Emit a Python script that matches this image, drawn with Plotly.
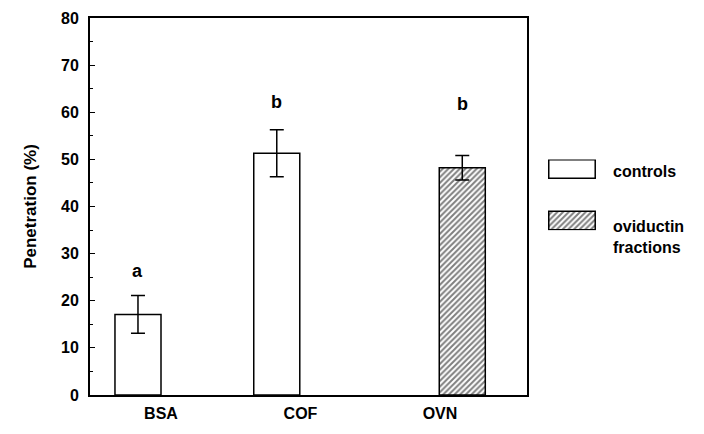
import plotly.graph_objects as go

# ---- data ----
categories = ["BSA", "COF", "OVN"]
penetration = [17.1, 51.3, 48.2]
sem = [4.0, 5.0, 2.6]
groups = ["control", "control", "oviductin"]
sig_letters = ["a", "b", "b"]
letter_y = [26.3, 62.2, 61.7]
y_ticks = [0, 10, 20, 30, 40, 50, 60, 70, 80]
legend_labels = ["controls", "oviductin", "fractions"]

# ---- layout constants ----
bar_pos = [0.835, 1.83, 3.16]
label_pos = [1, 2, 3]
bar_w = 0.33
FONT = "Liberation Sans, Arial, Helvetica, sans-serif"
HATCH = dict(shape="/", fgcolor="black", bgcolor="white", size=4, solidity=0.5)

fig = go.Figure()

for i, cat in enumerate(categories):
    hatched = groups[i] == "oviductin"
    pat = HATCH if hatched else dict(shape="")
    fig.add_trace(go.Bar(
        x=[bar_pos[i]], y=[penetration[i]], width=[bar_w],
        marker=dict(color="white", line=dict(color="black", width=1.5), pattern=pat),
        error_y=dict(type="data", array=[sem[i]], visible=True,
                     color="black", thickness=1.5, width=7),
        showlegend=False, xaxis="x", yaxis="y",
    ))

for i, t in enumerate(sig_letters):
    fig.add_annotation(x=bar_pos[i], y=letter_y[i], text=t, showarrow=False,
                       xref="x", yref="y",
                       font=dict(family=FONT, size=18, color="black", weight="bold"))

# legend drawn as inset axes
fig.add_trace(go.Bar(x=[0.5], y=[19], base=[53], width=[1],
                     marker=dict(color="white", line=dict(color="black", width=1.5)),
                     showlegend=False, xaxis="x2", yaxis="y2"))
fig.add_trace(go.Bar(x=[0.5], y=[19], base=[0], width=[1],
                     marker=dict(color="white", line=dict(color="black", width=1.5),
                                 pattern=HATCH),
                     showlegend=False, xaxis="x2", yaxis="y2"))

lab_font = dict(family=FONT, size=16, color="black", weight="bold")
fig.add_annotation(x=0.862, y=0.594, xref="paper", yref="paper", text=legend_labels[0],
                   showarrow=False, xanchor="left", yanchor="middle", font=lab_font)
fig.add_annotation(x=0.862, y=0.446, xref="paper", yref="paper", text=legend_labels[1],
                   showarrow=False, xanchor="left", yanchor="middle", font=lab_font)
fig.add_annotation(x=0.862, y=0.392, xref="paper", yref="paper", text=legend_labels[2],
                   showarrow=False, xanchor="left", yanchor="middle", font=lab_font)

fig.update_layout(
    width=704, height=434,
    margin=dict(l=90, r=10, t=12, b=39),
    paper_bgcolor="white", plot_bgcolor="white",
    barmode="overlay",
    xaxis=dict(domain=[0, 0.7235], range=[0.491, 3.624],
               tickvals=label_pos, ticktext=categories, ticks="",
               ticklabelstandoff=3,
               showgrid=False, zeroline=False,
               showline=True, linecolor="black", linewidth=2, mirror=True,
               tickfont=dict(family=FONT, size=16, color="black", weight="bold")),
    yaxis=dict(range=[0, 80], tickvals=y_ticks, ticks="inside", ticklen=5,
               tickwidth=1.2, tickcolor="black", ticklabelstandoff=6,
               minor=dict(dtick=5, ticks="inside", ticklen=3, tickcolor="black", tickwidth=1),
               showgrid=False, zeroline=False,
               showline=True, linecolor="black", linewidth=2, mirror=True,
               tickfont=dict(family=FONT, size=16, color="black", weight="bold"),
               title=dict(text="Penetration (%)", standoff=20,
                          font=dict(family=FONT, size=17, color="black", weight="bold"))),
    xaxis2=dict(domain=[0.758, 0.838], range=[-0.02, 1.02], visible=False,
                anchor="y2"),
    yaxis2=dict(domain=[0.437, 0.625], range=[-0.5, 72.5], visible=False,
                anchor="x2"),
)

fig.write_html("out.html")
